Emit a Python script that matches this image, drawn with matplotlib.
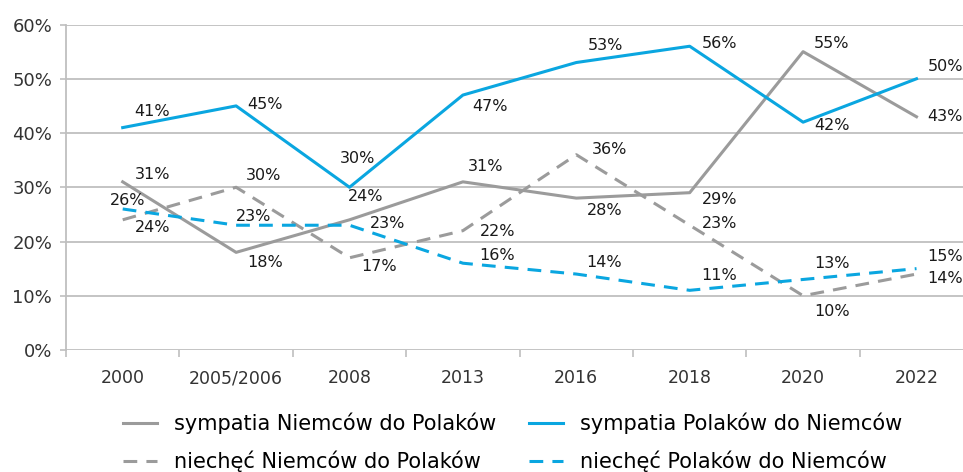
import matplotlib
matplotlib.use("Agg")
import matplotlib.pyplot as plt

years = ["2000", "2005/2006", "2008", "2013", "2016", "2018", "2020", "2022"]

sympatia_de_pl = [31, 18, 24, 31, 28, 29, 55, 43]
sympatia_pl_de = [41, 45, 30, 47, 53, 56, 42, 50]
niechec_de_pl = [24, 30, 17, 22, 36, 23, 10, 14]
niechec_pl_de = [26, 23, 23, 16, 14, 11, 13, 15]

series_names = ["sympatia Niemców do Polaków", "sympatia Polaków do Niemców",
                "niechęć Niemców do Polaków", "niechęć Polaków do Niemców"]

# label offsets in pixels (left edge of text, vertical centre)
off_sym_de = [(12, 7), (11, -10), (-2, 23), (5, 15), (11, -12), (12, -7), (11, 8), (11, 0)]
off_sym_pl = [(12, 16), (11, 1), (-10, 29), (9, -11), (11, 17), (12, 3), (11, -3), (11, 12)]
off_nie_de = [(12, -8), (10, 12), (12, -9), (17, -1), (16, 5), (12, 2), (11, -16), (11, -4)]
off_nie_pl = [(-13, 8), (0, 9), (20, 2), (16, 8), (10, 12), (12, 15), (11, 16), (11, 12)]

gray = "#9b9b9b"
blue = "#0aa6e0"
grid = "#bfbfbf"

fig = plt.figure(figsize=(9.63, 4.72), dpi=100)
ax = fig.add_axes([66 / 963, 0.2585, 1 - 66 / 963, 0.948 - 0.2585])

x = list(range(len(years)))
lw = 2.2
dash = (4.5, 3)
l1, = ax.plot(x, sympatia_de_pl, color=gray, lw=lw, label=series_names[0], zorder=3)
l2, = ax.plot(x, sympatia_pl_de, color=blue, lw=lw, label=series_names[1], zorder=4)
l3, = ax.plot(x, niechec_de_pl, color=gray, lw=lw, dashes=dash, label=series_names[2], zorder=3)
l4, = ax.plot(x, niechec_pl_de, color=blue, lw=lw, dashes=dash, label=series_names[3], zorder=4)

for vals, offs in [(sympatia_de_pl, off_sym_de), (sympatia_pl_de, off_sym_pl),
                   (niechec_de_pl, off_nie_de), (niechec_pl_de, off_nie_pl)]:
    for i, v in enumerate(vals):
        ax.annotate(f"{v}%", (i, v), xytext=offs[i], textcoords="offset pixels",
                    ha="left", va="center", fontsize=11.5, color="#1a1a1a",
                    annotation_clip=False, zorder=5)

ax.set_xlim(-0.5, 7.41)
ax.set_ylim(0, 60)
ax.set_yticks(range(0, 61, 10))
ax.set_yticklabels([f"{t}%" for t in range(0, 61, 10)], fontsize=13, color="#333333")
ax.set_xticks([i - 0.5 for i in range(8)])
ax.set_xticklabels([])
ax.set_xticks(x, minor=True)
ax.set_xticklabels(years, minor=True, fontsize=12.5, color="#333333")
ax.tick_params(axis="x", which="minor", length=0, pad=14)
ax.tick_params(axis="x", which="major", length=5, width=1.2, color=grid)
ax.tick_params(axis="y", length=4, width=1.2, color=grid, pad=6)

ax.grid(axis="y", color=grid, lw=1.3)
ax.set_axisbelow(True)
for s in ["top", "right", "bottom"]:
    ax.spines[s].set_visible(False)
ax.spines["left"].set_color(grid)
ax.spines["left"].set_linewidth(1.3)

# column-wise fill -> order so rows read sympatia / niechęć
fig.legend([l1, l3, l2, l4], [series_names[0], series_names[2], series_names[1], series_names[3]],
           loc="upper left", bbox_to_anchor=(123 / 963, 1 - 413 / 472), ncol=2,
           frameon=False, fontsize=15, handlelength=1.65, handletextpad=0.8,
           columnspacing=1.55, labelspacing=0.78, borderpad=0, borderaxespad=0)

fig.savefig("out.png", dpi=100)
